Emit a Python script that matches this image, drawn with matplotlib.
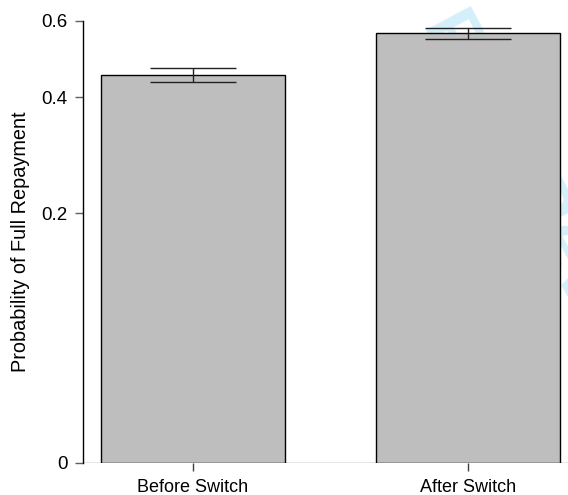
import numpy as np
import matplotlib.pyplot as plt

plt.rcParams['font.family'] = ['Liberation Sans', 'DejaVu Sans']

# data
groups = ["Before Switch", "After Switch"]
prob = [0.451, 0.562]
err = [0.0175, 0.017]
yticks = [0, 0.2, 0.4, 0.6]
ytick_labels = ["0", "0.2", "0.4", "0.6"]

fig = plt.figure(figsize=(5.68, 4.95), dpi=100)
ax = fig.add_axes([83 / 568, 32 / 495, 485 / 568, 442.3 / 495])

# faint watermark, behind the bars
fig.text(0.90, 0.70, "For Peer Review", rotation=-62, color="#d3effa",
         fontsize=54, fontweight="bold", ha="center", va="center", zorder=-1)
ax.patch.set_alpha(0)

# axis is log(p + 0.1)
ax.set_yscale("function", functions=(lambda v: np.log(np.asarray(v) + 0.1),
                                     lambda y: np.exp(y) - 0.1))
ax.set_ylim(0, 0.6)
ax.set_xlim(-0.4, 1.3636)

x = np.arange(len(groups))
ax.bar(x, prob, width=0.669, color="#bebebe", edgecolor="black", linewidth=1, zorder=2)
ax.errorbar(x, prob, yerr=err, fmt="none", ecolor="#222222", elinewidth=1,
            capsize=31, capthick=1, zorder=3)
ax.axhline(0, color="#808080", linewidth=1, zorder=1)

ax.set_yticks(yticks)
ax.set_yticklabels(ytick_labels)
ax.set_xticks(x)
ax.set_xticklabels(groups)
ax.minorticks_off()
ax.tick_params(axis="y", length=5.8, width=1, color="#606060", pad=5.5, labelsize=13.5)
ax.tick_params(axis="x", length=5.8, width=1, color="#404040", pad=6, labelsize=13)

for s in ["top", "right", "bottom"]:
    ax.spines[s].set_visible(False)
ax.spines["left"].set_bounds(0, 0.6)
ax.spines["left"].set_linewidth(1)

ax.set_ylabel("Probability of Full Repayment", fontsize=14.3, labelpad=8)

fig.savefig("out.png", dpi=100)
